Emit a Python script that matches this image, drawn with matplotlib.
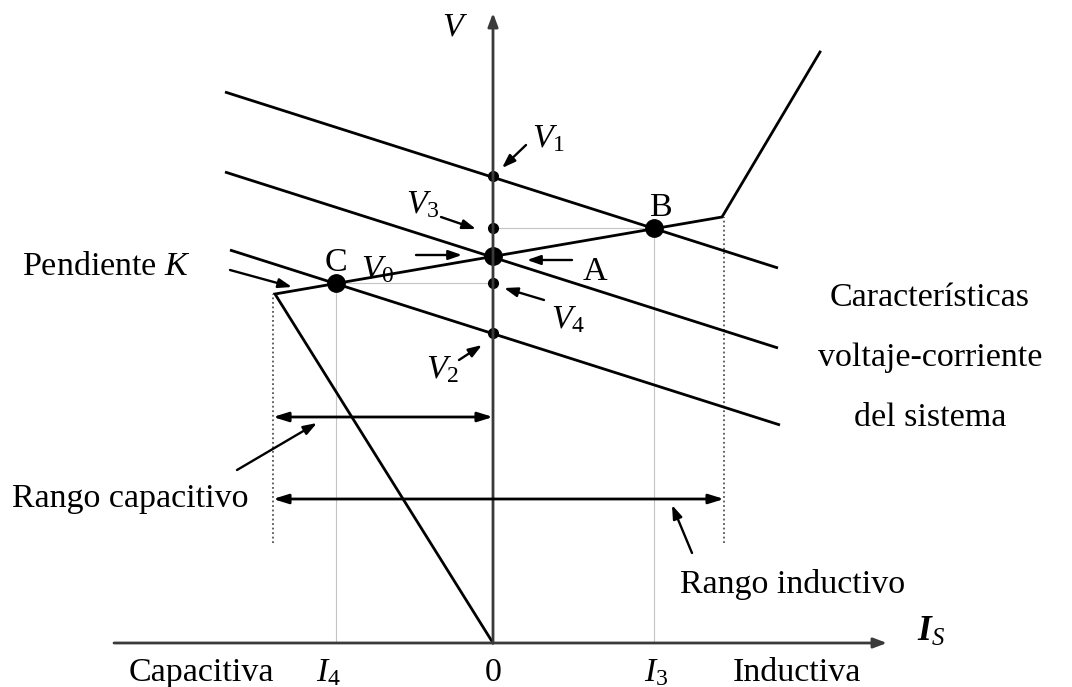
import matplotlib
matplotlib.use('Agg')
import matplotlib.pyplot as plt

plt.rcParams['font.family'] = ['Liberation Serif', 'DejaVu Serif']
plt.rcParams['mathtext.fontset'] = 'custom'
plt.rcParams['mathtext.rm'] = 'Liberation Serif'
plt.rcParams['mathtext.it'] = 'Liberation Serif:italic'
plt.rcParams['mathtext.bf'] = 'Liberation Serif:bold'
plt.rcParams['mathtext.bfit'] = 'Liberation Serif:italic:bold'

# diagram coordinates: origin where the two axes cross
# SVC characteristic (current I_S, voltage V)
svc_i = [0, -218, 229, 327]
svc_v = [0, 349, 426, 591]

# system voltage-current characteristics (three straight lines)
sys_i = [[-268, 285], [-268, 285], [-263, 287]]
sys_v = [[551, 375], [471, 295], [393, 218]]

# voltages marked on the V axis
v_marks = {'V1': 467, 'V3': 415, 'V4': 360, 'V2': 310}
v_A = 387
# operating points B and C
I3, V3 = 161, 415
I4, V4 = -157, 360

# limits of the control range
i_cap = -220
i_ind = 231
dot_low = 100
arrow_cap_v = 226
arrow_ind_v = 144

fig = plt.figure(figsize=(10.72, 6.87), dpi=100)
ax = fig.add_axes([0, 0, 1, 1])
ax.set_xlim(-493, 579)
ax.set_ylim(-44, 643)
ax.axis('off')

fs = 24.5
lw = 2.0
axcol = '#3a3a3a'

# axes with arrows
ax.annotate('', xy=(394, 0), xytext=(-379, 0),
            arrowprops=dict(arrowstyle='-|>,head_length=0.8,head_width=0.3', color=axcol, lw=2.0,
                            shrinkA=0, shrinkB=0))
ax.annotate('', xy=(0, 630), xytext=(0, 0),
            arrowprops=dict(arrowstyle='-|>,head_length=0.8,head_width=0.3', color=axcol, lw=2.0,
                            shrinkA=0, shrinkB=0))

# thin guide lines
g = '#c4c4c4'
ax.plot([0, I3], [V3, V3], color=g, lw=0.8)
ax.plot([I3, I3], [0, V3], color=g, lw=0.8)
ax.plot([I4, 0], [V4, V4], color=g, lw=0.8)
ax.plot([I4, I4], [0, V4], color=g, lw=0.8)

# dotted range limits
ax.plot([i_cap, i_cap], [dot_low, svc_v[1]], color='#555555', lw=1.3, ls=(0, (1, 1.5)))
ax.plot([i_ind, i_ind], [dot_low, svc_v[2]], color='#555555', lw=1.3, ls=(0, (1, 1.5)))

# system lines
for xi, yi in zip(sys_i, sys_v):
    ax.plot(xi, yi, color='black', lw=lw, solid_capstyle='butt')

# SVC characteristic
ax.plot(svc_i, svc_v, color='black', lw=lw, solid_joinstyle='miter')

# dots
for k, v in v_marks.items():
    ax.plot(0, v, 'o', color='black', ms=7)
ax.plot(0, v_A, 'o', color='black', ms=12.5)
ax.plot(I3, V3, 'o', color='black', ms=12.5)
ax.plot(I4, V4, 'o', color='black', ms=12.5)

# range arrows
da = dict(arrowstyle='<|-|>,head_length=0.9,head_width=0.28', color='black', lw=2.0,
          shrinkA=0, shrinkB=0)
ax.annotate('', xy=(0, arrow_cap_v), xytext=(i_cap, arrow_cap_v), arrowprops=da)
ax.annotate('', xy=(i_ind, arrow_ind_v), xytext=(i_cap, arrow_ind_v), arrowprops=da)

# pointer arrows
pa = dict(arrowstyle='-|>,head_length=0.8,head_width=0.28', color='black', lw=1.7,
          shrinkA=0, shrinkB=0)
pointers = [((33, 498), (9, 475)), ((-52, 426), (-17, 414)), ((-77, 388), (-31, 388)),
            ((79, 383), (34, 383)), ((51, 343), (11, 355)), ((-34, 283), (-11, 298)),
            ((-263, 373), (-201, 356)), ((-256, 173), (-176, 220)), ((199, 90), (179, 138))]
for tail, head in pointers:
    ax.annotate('', xy=head, xytext=tail, arrowprops=pa)

# labels
ax.text(-38, 616, r'$V$', fontsize=fs, ha='center', va='center')
ax.text(39, 504, r'$V_{\mathit{1}}$', fontsize=fs, ha='left', va='center')
ax.text(-87, 438, r'$V_{\mathit{3}}$', fontsize=fs, ha='left', va='center')
ax.text(-132, 373, r'$V_{\mathit{0}}$', fontsize=fs, ha='left', va='center')
ax.text(58, 323, r'$V_{\mathit{4}}$', fontsize=fs, ha='left', va='center')
ax.text(-67, 273, r'$V_{\mathit{2}}$', fontsize=fs, ha='left', va='center')
ax.text(102, 371, 'A', fontsize=fs, ha='center', va='center')
ax.text(168, 435, 'B', fontsize=fs, ha='center', va='center')
ax.text(-157, 380, 'C', fontsize=fs, ha='center', va='center')
ax.text(-471, 368, r'Pendiente $K$', fontsize=fs, ha='left', va='baseline')
ax.text(437, 337, 'Características', fontsize=fs, ha='center', va='baseline')
ax.text(437, 277, 'voltaje-corriente', fontsize=fs, ha='center', va='baseline')
ax.text(437, 217, 'del sistema', fontsize=fs, ha='center', va='baseline')
ax.text(-481, 136, 'Rango capacitivo', fontsize=fs, ha='left', va='baseline')
ax.text(187, 50, 'Rango inductivo', fontsize=fs, ha='left', va='baseline')
ax.text(-364, -38, 'Capacitiva', fontsize=fs, ha='left', va='baseline')
ax.text(-165, -38, r'$I_{\mathit{4}}$', fontsize=fs, ha='center', va='baseline')
ax.text(0, -38, '0', fontsize=fs, ha='center', va='baseline')
ax.text(163, -38, r'$I_{\mathit{3}}$', fontsize=fs, ha='center', va='baseline')
ax.text(240, -38, 'Inductiva', fontsize=fs, ha='left', va='baseline')
ax.text(424, 2, r'$\mathbfit{I}_{\mathit{S}}$', fontsize=fs + 1, ha='left', va='baseline')

fig.savefig('out.png', dpi=100, facecolor='white')
